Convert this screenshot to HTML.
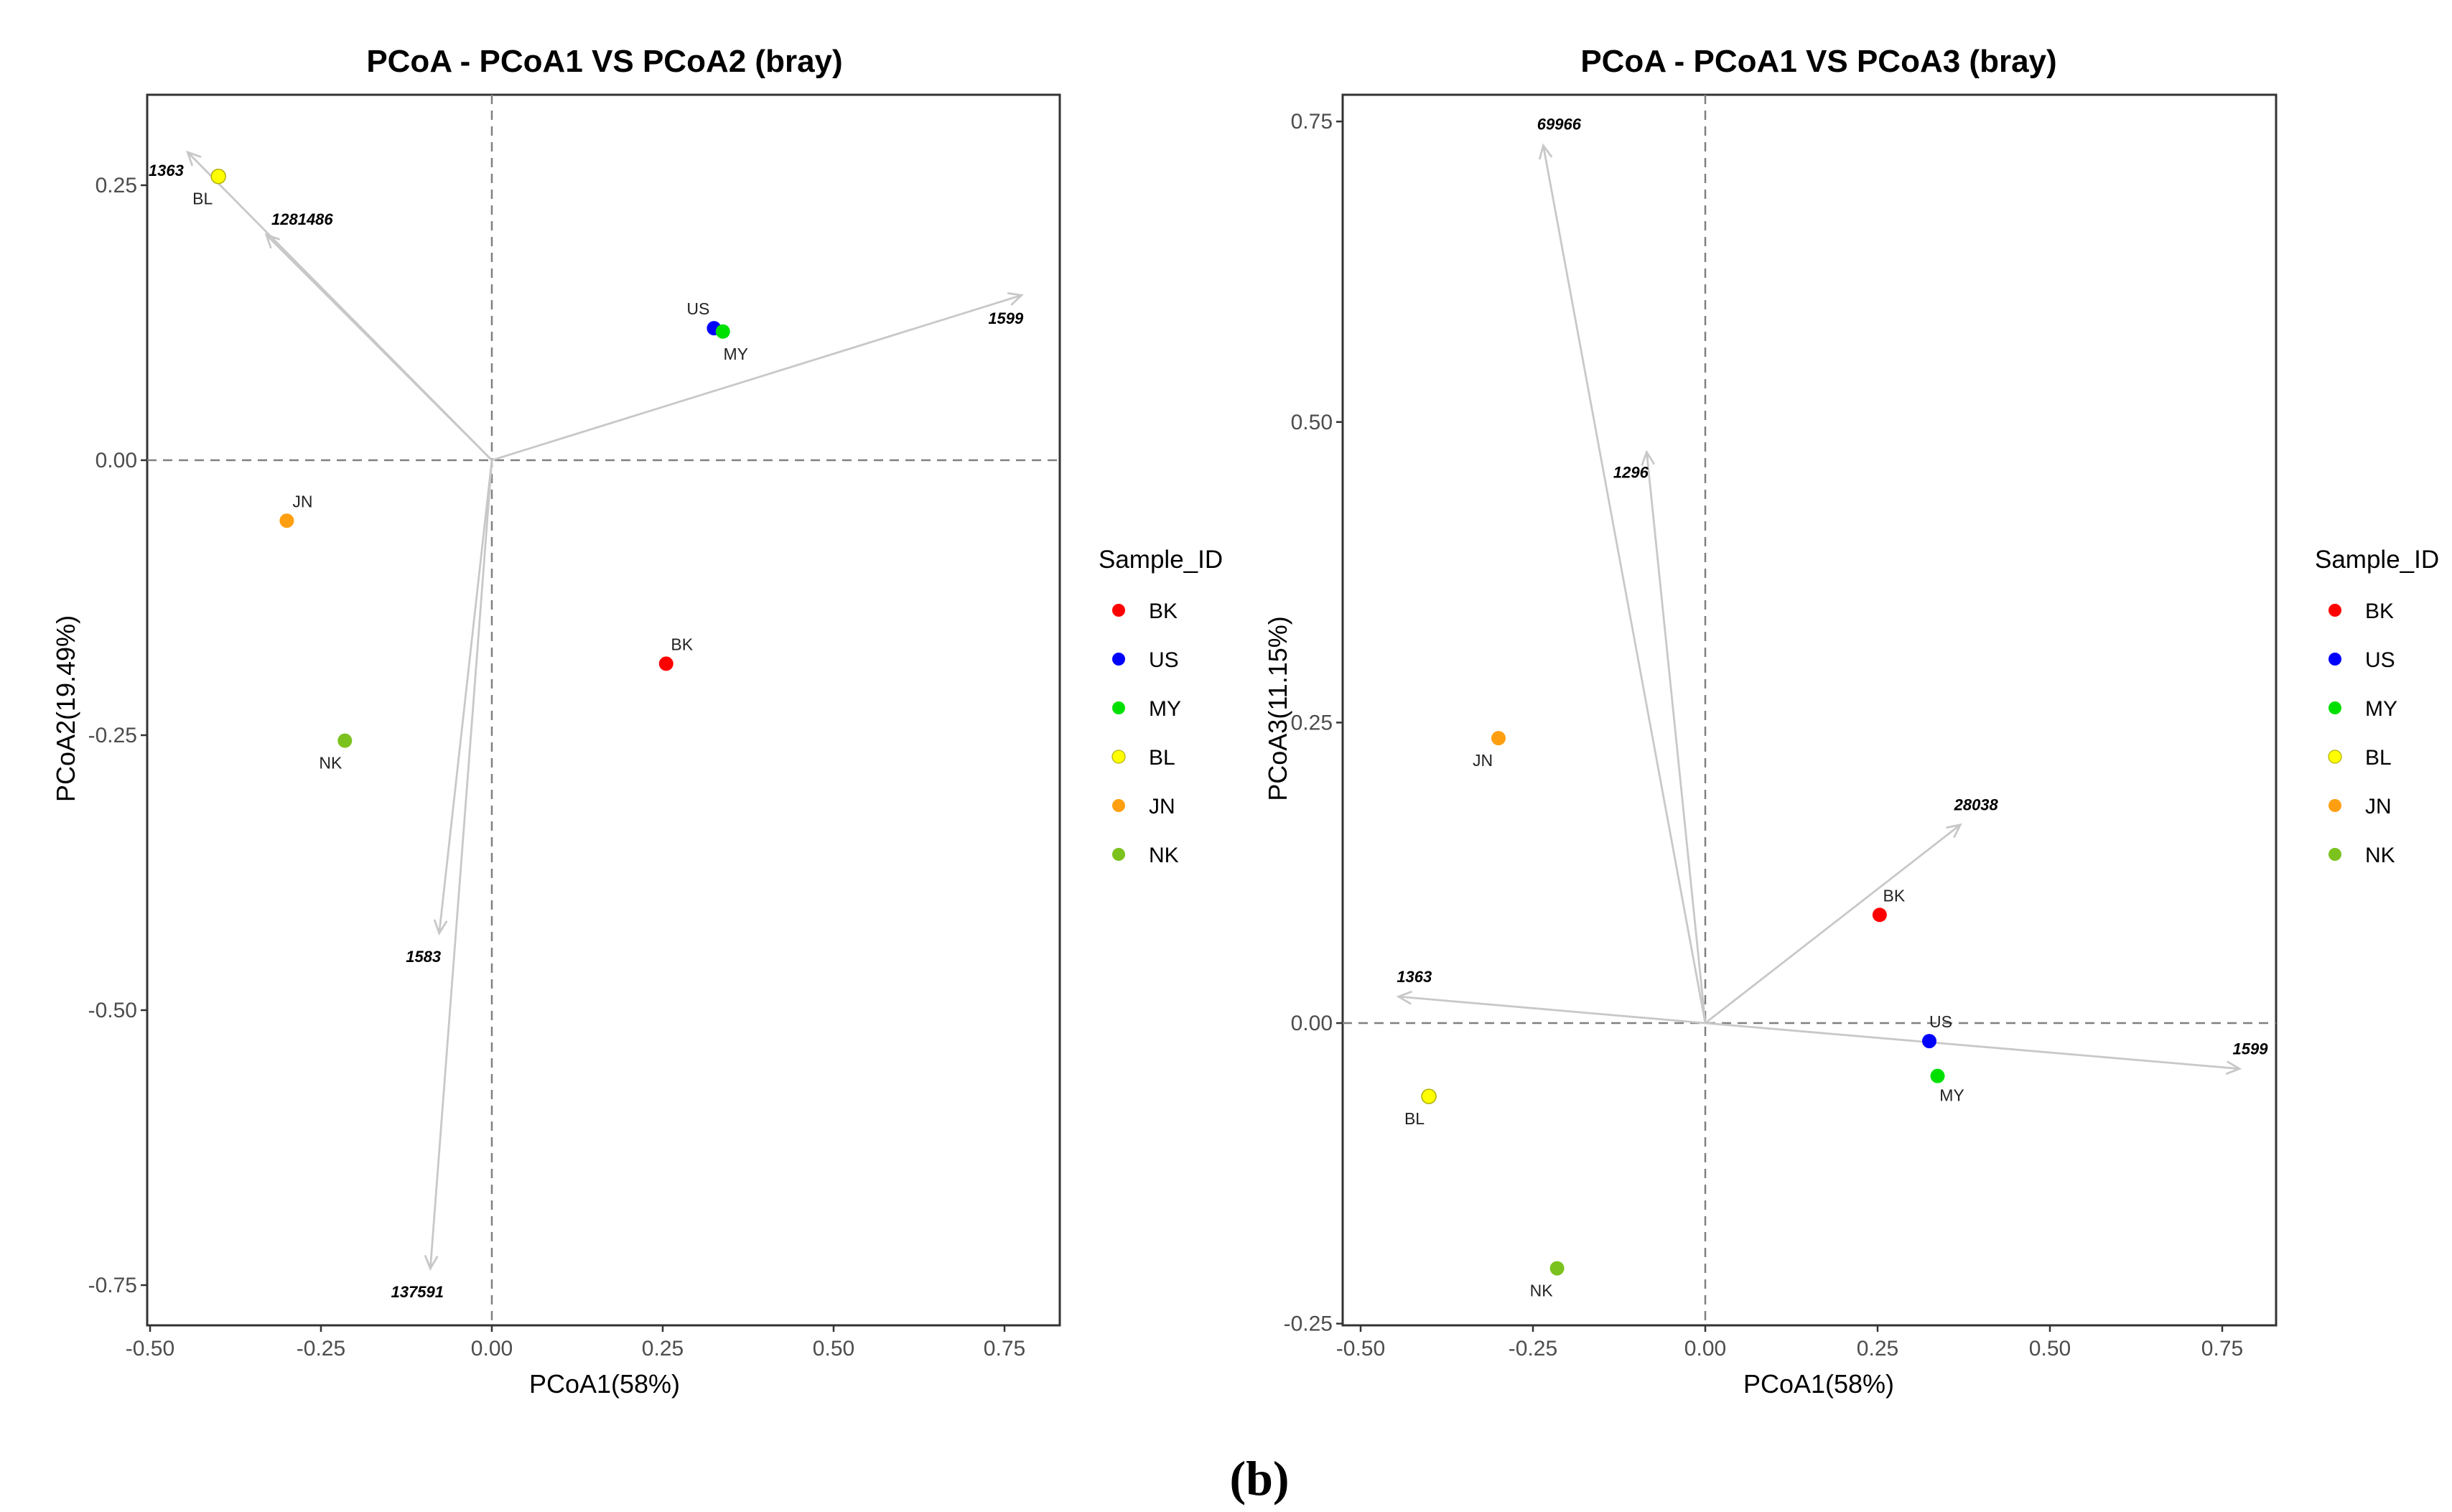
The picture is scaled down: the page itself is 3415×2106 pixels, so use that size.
<!DOCTYPE html>
<html><head><meta charset="utf-8">
<style>
html,body{margin:0;padding:0;background:#fff;}
svg{display:block;font-family:"Liberation Sans",sans-serif;}
</style></head>
<body>
<svg id="fig" width="3415" height="2106" viewBox="0 0 3415 2106" xmlns="http://www.w3.org/2000/svg">
<rect width="3415" height="2106" fill="#fff"/>
<text x="1754" y="2082" text-anchor="middle" font-family="'Liberation Serif',serif" font-weight="bold" font-size="68">(b)</text>
</svg>
<script>
// Shared samples
const sampleIds = ["BK","US","MY","BL","JN","NK"];
const sampleColors = ["#ff0000","#0000ff","#00e000","#ffff00","#ff9f10","#7cc21e"];
// Plot 1: PCoA1 vs PCoA2
const p1PC1 = [0.255, 0.325, 0.338, -0.400, -0.300, -0.215];
const p1PC2 = [-0.185, 0.120, 0.117, 0.258, -0.055, -0.255];
const p1ArrowNames = ["1363","1281486","1599","1583","137591"];
const p1ArrowX = [-0.445, -0.330, 0.775, -0.077, -0.090];
const p1ArrowY = [0.280, 0.205, 0.150, -0.430, -0.735];
const p1XTicks = [-0.50,-0.25,0.00,0.25,0.50,0.75];
const p1YTicks = [0.25,0.00,-0.25,-0.50,-0.75];
// Plot 2: PCoA1 vs PCoA3
const p2PC1 = [0.253, 0.325, 0.337, -0.401, -0.300, -0.215];
const p2PC3 = [0.090, -0.015, -0.044, -0.061, 0.237, -0.204];
const p2ArrowNames = ["69966","1296","28038","1363","1599"];
const p2ArrowX = [-0.235, -0.085, 0.370, -0.445, 0.775];
const p2ArrowY = [0.730, 0.475, 0.165, 0.022, -0.038];
const p2XTicks = [-0.50,-0.25,0.00,0.25,0.50,0.75];
const p2YTicks = [0.75,0.50,0.25,0.00,-0.25];

const NS="http://www.w3.org/2000/svg";
const svg=document.getElementById('fig');
function mk(tag,attrs,parent,text){const e=document.createElementNS(NS,tag);for(const k in attrs)e.setAttribute(k,attrs[k]);if(text!==undefined)e.textContent=text;(parent||svg).appendChild(e);return e;}

function drawPlot(cfg){
  const g=mk('g',{});
  
  
  const sx=v=>cfg.x0+v/0.25*cfg.xu;
  const sy=v=>cfg.y0-v/0.25*cfg.yu;
  const t=mk('text',{x:cfg.tx,y:cfg.ty,'text-anchor':'middle','font-size':44,'font-weight':'bold'},g,cfg.title);
  
  
  const pr=mk('rect',{x:cfg.L,y:cfg.T,width:cfg.R-cfg.L,height:cfg.B-cfg.T,fill:'#fff',stroke:'#333','stroke-width':3},g);
  
  
  const hz=mk('line',{x1:cfg.L,x2:cfg.R,y1:sy(0),y2:sy(0),stroke:'#808080','stroke-width':2.5,'stroke-dasharray':'13 9'},g);
  
  
  const vz=mk('line',{x1:sx(0),x2:sx(0),y1:cfg.T,y2:cfg.B,stroke:'#808080','stroke-width':2.5,'stroke-dasharray':'13 9'},g);
  
  
  cfg.xt.forEach(v=>{
    mk('line',{x1:sx(v),x2:sx(v),y1:cfg.B,y2:cfg.B+9,stroke:'#333','stroke-width':2.5},g);
    const tl=mk('text',{x:sx(v),y:cfg.B+42,'text-anchor':'middle','font-size':30,fill:'#4d4d4d'},g,v.toFixed(2));
    
    
  });
  cfg.yt.forEach(v=>{
    mk('line',{x1:cfg.L-9,x2:cfg.L,y1:sy(v),y2:sy(v),stroke:'#333','stroke-width':2.5},g);
    const tl=mk('text',{x:cfg.L-14,y:sy(v)+10,'text-anchor':'end','font-size':30,fill:'#4d4d4d'},g,v.toFixed(2));
    
    
  });
  const xt=mk('text',{x:cfg.xTitleX,y:cfg.xTitleY,'text-anchor':'middle','font-size':36},g,'PCoA1(58%)');
  
  
  const yc=cfg.yTitleY;
  const yt=mk('text',{x:cfg.yTitleX,y:yc,'text-anchor':'middle','font-size':36,transform:`rotate(-90 ${cfg.yTitleX} ${yc})`},g,cfg.yTitle);
  
  
  const ox=sx(0),oy=sy(0);
  cfg.an.forEach((n,i)=>{
    const ex=sx(cfg.ax[i]),ey=sy(cfg.ay[i]);
    const ang=Math.atan2(ey-oy,ex-ox),h=20,sp=0.45;
    const a=mk('path',{d:`M${ox},${oy}L${ex},${ey}M${ex-h*Math.cos(ang-sp)},${ey-h*Math.sin(ang-sp)}L${ex},${ey}L${ex-h*Math.cos(ang+sp)},${ey-h*Math.sin(ang+sp)}`,stroke:'#c8c8c8','stroke-width':2.8,fill:'none'},g);
    
    
    const off=cfg.aoff[i];
    const l=mk('text',{x:ex+off[0],y:ey+off[1]+8,'text-anchor':'middle','font-size':22,'font-weight':'bold','font-style':'italic'},g,n);
    
    
  });
  sampleIds.forEach((id,i)=>{
    const cx=sx(cfg.px[i]),cy=sy(cfg.py[i]);
    const c=mk('circle',{cx:cx,cy:cy,r:10,fill:sampleColors[i],stroke:id==='BL'?'#b0b000':'none','stroke-width':1.5},g);
    
    
    const off=cfg.poff[i];
    const l=mk('text',{x:cx+off[0],y:cy+off[1]+8,'text-anchor':'middle','font-size':23,fill:'#222'},g,id);
    
    
  });
  const lg=mk('g',{},g);
  
  
  const lt=mk('text',{x:cfg.lgX-28,y:cfg.lgTitleY,'font-size':35},lg,'Sample_ID');
  
  
  sampleIds.forEach((id,i)=>{
    const y=cfg.lgY0+i*cfg.lgStep;
    const e=mk('g',{},lg);
    
    
    mk('circle',{cx:cfg.lgX,cy:y,r:9,fill:sampleColors[i],stroke:id==='BL'?'#b0b000':'none','stroke-width':1.2},e);
    mk('text',{x:cfg.lgX+42,y:y+11,'font-size':30},e,id);
  });
}

drawPlot({name:'plot-pcoa1-vs-pcoa2',title:'PCoA - PCoA1 VS PCoA2 (bray)',tx:842,ty:100,
  L:205,R:1476,T:132,B:1846,x0:685,xu:238,y0:641,yu:383,xt:p1XTicks,yt:p1YTicks,
  xTitleX:842,xTitleY:1940,yTitleX:104,yTitleY:987,yTitle:'PCoA2(19.49%)',
  px:p1PC1,py:p1PC2,an:p1ArrowNames,ax:p1ArrowX,ay:p1ArrowY,
  poff:[[22,-27],[-22,-27],[18,31],[-22,31],[22,-27],[-20,31]],
  aoff:[[-30,25],[50,-22],[-22,32],[-22,32],[-18,32]],
  lgX:1558,lgTitleY:791,lgY0:850,lgStep:68});
drawPlot({name:'plot-pcoa1-vs-pcoa3',title:'PCoA - PCoA1 VS PCoA3 (bray)',tx:2533,ty:100,
  L:1870,R:3170,T:132,B:1846,x0:2375,xu:240,y0:1425,yu:418.6,xt:p2XTicks,yt:p2YTicks,
  xTitleX:2533,xTitleY:1940,yTitleX:1792,yTitleY:987,yTitle:'PCoA3(11.15%)',
  px:p2PC1,py:p2PC3,an:p2ArrowNames,ax:p2ArrowX,ay:p2ArrowY,
  poff:[[20,-27],[16,-27],[20,27],[-20,31],[-22,31],[-22,31]],
  aoff:[[22,-30],[-22,28],[22,-28],[22,-28],[15,-28]],
  lgX:3252,lgTitleY:791,lgY0:850,lgStep:68});
</script>
</body></html>
